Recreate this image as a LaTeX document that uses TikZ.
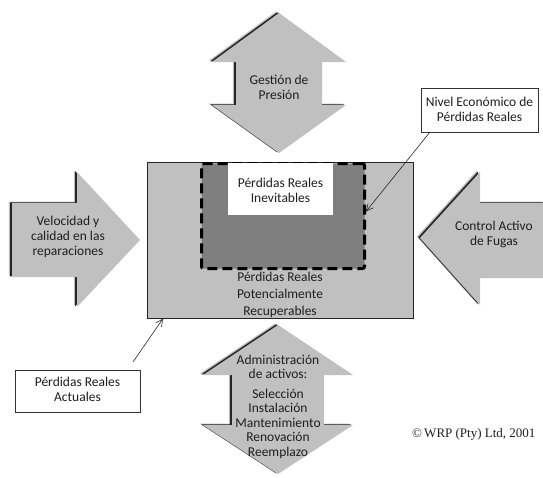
\documentclass[tikz,border=0pt]{standalone}
\usepackage{fontspec}
\setmainfont{Carlito}
\newfontfamily\cserif{Liberation Serif}
\usetikzlibrary{arrows.meta}
\definecolor{arrowgray}{RGB}{192,192,192}
\definecolor{rectgray}{RGB}{192,192,192}
\definecolor{darkfill}{RGB}{127,127,127}
\definecolor{txtgray}{RGB}{30,30,30}
\newcommand\shadedshape[1]{%
  \fill[black,opacity=.25,shift={(-3.2,-1.4)}] #1;
  \fill[black!85,shift={(-1.8,-0.7)}] #1;
  \fill[arrowgray] #1;}
\tikzset{
  lbl/.style={font=\fontsize{13.5}{15}\selectfont, align=center, text=txtgray, inner sep=0pt},
  boxw/.style={draw=black!80, line width=0.6pt, fill=white, inner sep=0pt},
  leader/.style={draw=black!85, line width=0.6pt, -{Straight Barb[length=7pt,width=7pt]}},
}
\begin{document}
\begin{tikzpicture}[x=1pt,y=-1pt]
\useasboundingbox (0,0) rectangle (543,477);
\fill[white] (0,0) rectangle (543,477);
% top double arrow
\shadedshape{(279,13) -- (346,62) -- (322,62) -- (322,105) -- (346,105) -- (279,153) -- (212,105) -- (236,105) -- (236,62) -- (212,62) -- cycle}
% bottom double arrow
\shadedshape{(278,325) -- (353,375) -- (324,375) -- (324,425) -- (353,425) -- (278,474) -- (203,425) -- (232,425) -- (232,375) -- (203,375) -- cycle}
% left arrow
\shadedshape{(12,203) -- (77,203) -- (77,172) -- (140,240) -- (77,307) -- (77,277) -- (12,277) -- cycle}
% right arrow
\shadedshape{(420,238) -- (480,172) -- (480,203) -- (545,203) -- (545,278) -- (480,278) -- (480,305) -- cycle}
% main rectangle
\node[draw=black!85, line width=0.6pt, fill=rectgray, inner sep=0pt, minimum width=266pt, minimum height=156pt, anchor=north west] (main) at (147,162) {};
% economic level dashed box
\node[draw=black, line width=3pt, dash pattern=on 10pt off 5pt, fill=darkfill, rounded corners=2pt, inner sep=0pt, minimum width=163pt, minimum height=105pt, anchor=north west] (econ) at (200,162) {};
% unavoidable losses
\node[fill=white, inner sep=0pt, minimum width=105pt, minimum height=52pt, anchor=north west] (inevbox) at (228,163) {};
\node[lbl] (inev) at (280.5,190.5) {Pérdidas Reales\\Inevitables};
\node[lbl, font=\fontsize{13.5}{17}\selectfont] (recup) at (280,295) {Pérdidas Reales\\Potencialmente\\Recuperables};
% arrow labels
\node[lbl] (gestion) at (279,87.5) {Gestión de\\Presión};
\node[lbl] (veloc) at (68,237) {Velocidad y\\calidad en las\\reparaciones};
\node[lbl] (control) at (494,234.5) {Control Activo\\de Fugas};
\node[lbl, font=\fontsize{13.5}{14.5}\selectfont] (admin) at (278,406.5) {Administración\\de activos:\\[5pt]Selección\\Instalación\\Mantenimiento\\Renovación\\Reemplazo};
% callout boxes
\node[boxw, minimum width=117pt, minimum height=44pt] (nivelbox) at (479.5,110) {};
\node[lbl] (nivel) at (479.5,109.5) {Nivel Económico de\\Pérdidas Reales};
\node[boxw, minimum width=125pt, minimum height=42pt] (actbox) at (77.5,391) {};
\node[lbl] (actual) at (77.5,389.5) {Pérdidas Reales\\Actuales};
% leaders
\coordinate (nivstart) at (430,132);
\coordinate (actstart) at (133,362);
\draw[leader] (nivstart) -- ([yshift=4.5pt]econ.east);
\draw[leader] (actstart) -- ([xshift=16pt]main.south west);
% copyright
\node[anchor=west, inner sep=0pt, font=\cserif\fontsize{13}{15}\selectfont, text=txtgray] (copy) at (412,434) {©\,WRP (Pty) Ltd, 2001};
\end{tikzpicture}
\end{document}
